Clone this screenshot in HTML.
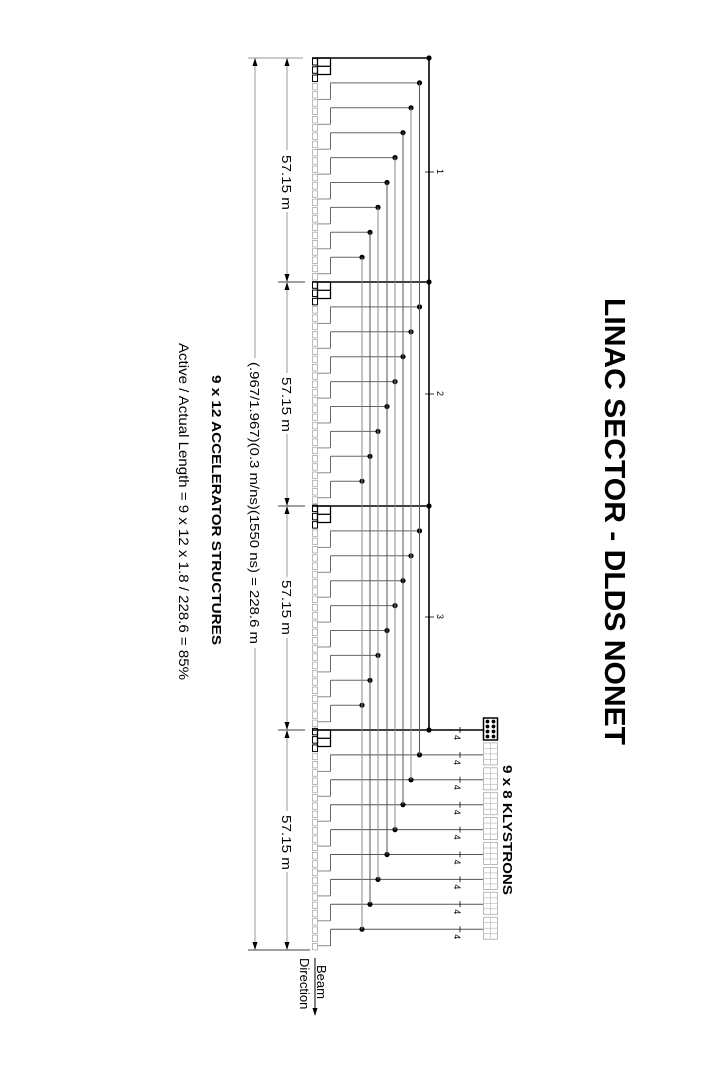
<!DOCTYPE html>
<html><head><meta charset="utf-8"><style>
html,body{margin:0;padding:0;background:#fff;}
svg{display:block;}
text{font-family:"Liberation Sans",Arial,sans-serif;}
</style></head><body>
<svg id="s" width="701" height="1081" viewBox="0 0 701 1081" xmlns="http://www.w3.org/2000/svg">
<rect width="701" height="1081" fill="#fff"/>
<g id="g"></g>
<text transform="translate(605,298) rotate(90)" font-size="29" font-weight="bold" textLength="447" lengthAdjust="spacingAndGlyphs">LINAC SECTOR - DLDS NONET</text>
<text transform="translate(503,765) rotate(90)" font-size="13" font-weight="bold" textLength="130" lengthAdjust="spacingAndGlyphs">9 x 8 KLYSTRONS</text>
<text transform="translate(212,375) rotate(90)" font-size="13" font-weight="bold" textLength="270" lengthAdjust="spacingAndGlyphs">9 x 12 ACCELERATOR STRUCTURES</text>
<text transform="translate(179,343) rotate(90)" font-size="14" textLength="337" lengthAdjust="spacingAndGlyphs">Active / Actual Length = 9 x 12 x 1.8 / 228.6 = 85%</text>
<text transform="translate(250,362) rotate(90)" font-size="13" textLength="282" lengthAdjust="spacingAndGlyphs">(.967/1.967)(0.3 m/ns)(1550 ns) = 228.6 m</text>
<text transform="translate(282,155) rotate(90)" font-size="13" textLength="55" lengthAdjust="spacingAndGlyphs">57.15 m</text>
<text transform="translate(282,377) rotate(90)" font-size="13" textLength="55" lengthAdjust="spacingAndGlyphs">57.15 m</text>
<text transform="translate(282,580) rotate(90)" font-size="13" textLength="55" lengthAdjust="spacingAndGlyphs">57.15 m</text>
<text transform="translate(282,815) rotate(90)" font-size="13" textLength="55" lengthAdjust="spacingAndGlyphs">57.15 m</text>
<text transform="translate(437,169) rotate(90)" font-size="9">1</text>
<text transform="translate(437,391) rotate(90)" font-size="9">2</text>
<text transform="translate(437,614) rotate(90)" font-size="9">3</text>
<text transform="translate(317,965) rotate(90)" font-size="13">Beam</text>
<text transform="translate(300,958) rotate(90)" font-size="13">Direction</text>
</svg>
<script>
(function(){
var g=document.getElementById('g'),h='';
function L(x1,y1,x2,y2,c,w){h+='<line x1="'+x1+'" y1="'+y1+'" x2="'+x2+'" y2="'+y2+'" stroke="'+c+'" stroke-width="'+w+'"/>';}
function R(x,y,w,hh,c,sw,f){h+='<rect x="'+x+'" y="'+y+'" width="'+w+'" height="'+hh+'" stroke="'+c+'" stroke-width="'+sw+'" fill="'+(f||'none')+'"/>';}
function D(x,y){h+='<circle cx="'+x+'" cy="'+y+'" r="2.6" fill="#000"/>';}
var Y=[58,282,506,730],P=24.9,X=[429,419.5,411,403,395,387,378,370,362];
for(var i=0;i<108;i++){var y=58+i*8.27;var st=(i%27<3);R(312.5,y+0.5,5,6.5,st?'#000':'#aaa',st?1:0.8);}
for(var s=0;s<4;s++)for(var k=0;k<9;k++){var y0=Y[s]+k*P;
 if(k==0){R(317.5,y0,13,16.5,'#000',1.3);L(317.5,y0+8.3,330.5,y0+8.3,'#000',1.3);}
 else{L(317.5,y0+16.5,330.5,y0+16.5,'#888',1);L(330.5,y0,330.5,y0+16.5,'#666',1);}
 var xe=(s==3)?483:X[k];
 if(k==0){L(312,y0,xe,y0,'#000',1.5);}else L(330.5,y0,xe,y0,s==3?'#555':'#666',1);
 D(X[k],y0);
}
for(var k=0;k<9;k++){L(X[k],Y[0]+k*P,X[k],Y[3]+k*P,k==0?'#000':(k%2?'#555':'#888'),k==0?1.6:1);}
for(var r=0;r<9;r++){var yc=730+r*P,yt=yc-12;
 if(r==0){R(483.5,yt,14,22,'#000',1.5);for(var a=0;a<2;a++)for(var b=0;b<4;b++)h+='<circle cx="'+(487.5+a*6)+'" cy="'+(yt+3.5+b*5)+'" r="1.9" fill="#000"/>';}
 else{R(483.5,yt,14,22,'#aaa',0.8);L(490.5,yt,490.5,yt+22,'#bbb',0.7);for(var b=1;b<4;b++)L(483.5,yt+b*5.5,497.5,yt+b*5.5,'#bbb',0.7);}
 L(460,yc-3,460,yc+3,'#000',0.8);
 h+='<text transform="translate(454,'+(yc+5)+') rotate(90)" font-size="9" font-family="Liberation Sans,sans-serif">4</text>';
}
[172,394,617].forEach(function(y){L(425,y,434,y,'#000',0.8);});
L(248,58,303,58,'#aaa',1.2);L(248,950,310,950,'#000',0.8);
[282,506,730].forEach(function(y){L(278,y,305,y,'#000',0.8);});
L(255,58,255,358,'#aaa',1.2);L(255,648,255,950,'#aaa',1.2);
function AU(x,y){h+='<polygon points="'+x+','+y+' '+(x-2.5)+','+(y+8)+' '+(x+2.5)+','+(y+8)+'" fill="#000"/>';}
function AD(x,y){h+='<polygon points="'+x+','+y+' '+(x-2.5)+','+(y-8)+' '+(x+2.5)+','+(y-8)+'" fill="#000"/>';}
AU(255,58);AD(255,950);
var segs=[[58,282,150,212],[282,506,373,434],[506,730,577,638],[730,950,811,872]];
segs.forEach(function(s){L(287,s[0],287,s[2],'#aaa',1.2);L(287,s[3],287,s[1],'#aaa',1.2);AU(287,s[0]);AD(287,s[1]);});
L(315,958,315,1010,'#000',1);AD(315,1016);
g.innerHTML=h;
})();
</script>
</body></html>
